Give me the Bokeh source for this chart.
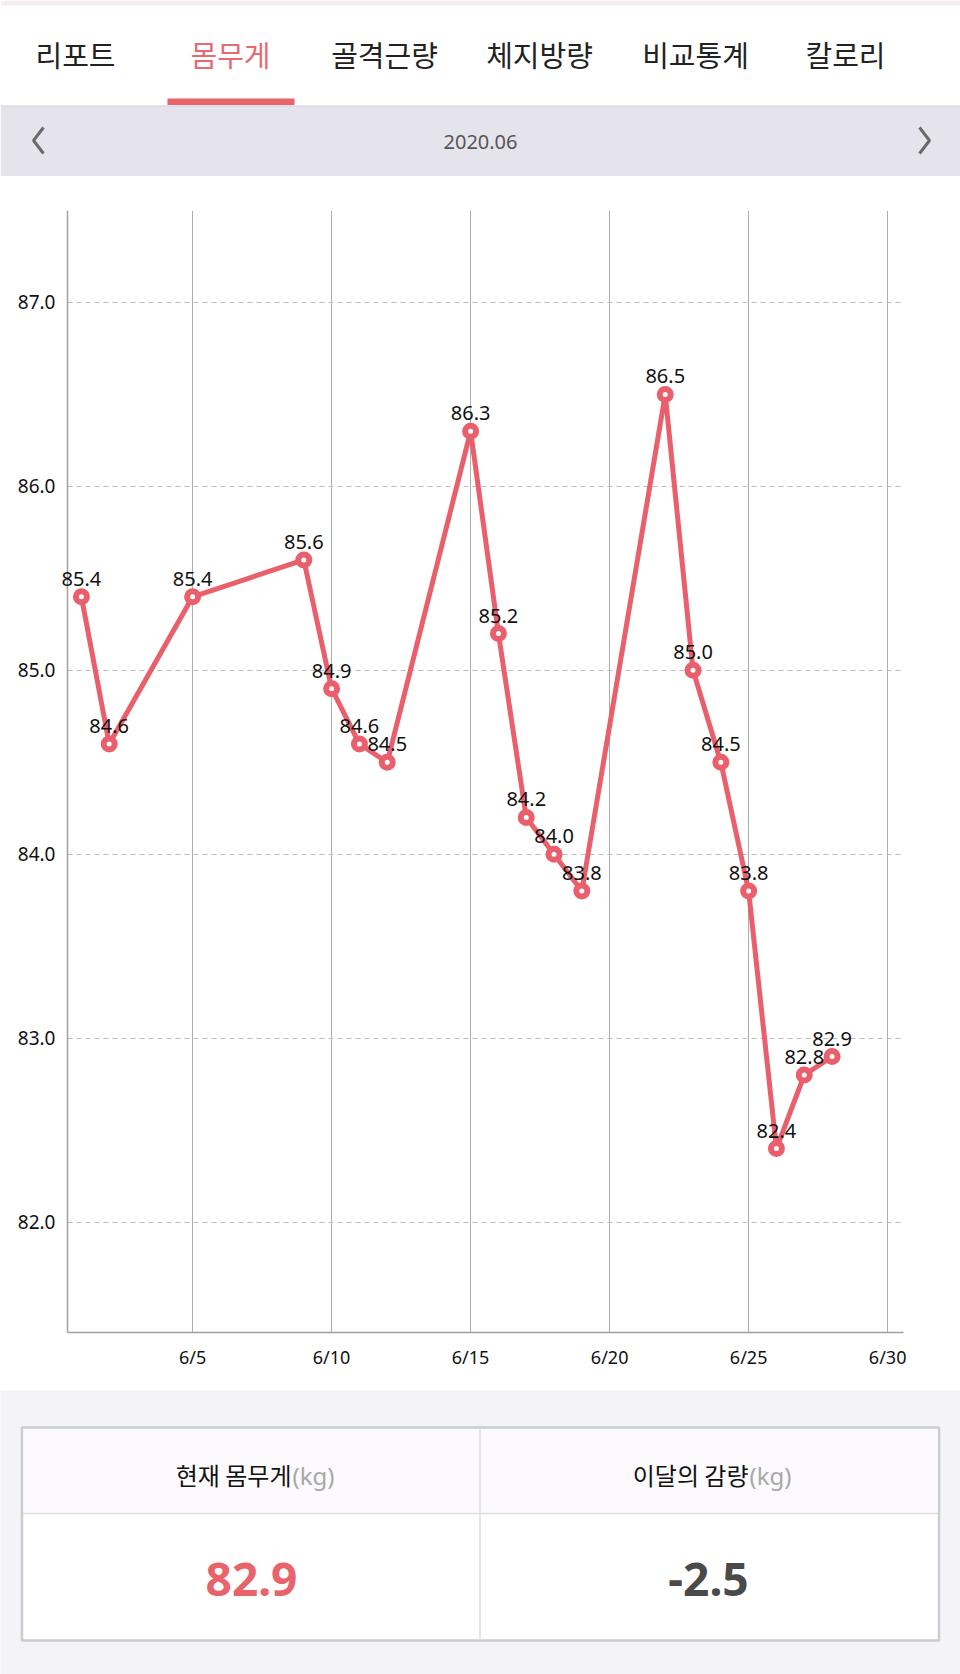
from bokeh.plotting import figure
from bokeh.models import ColumnDataSource, Range1d, FixedTicker, Label, BoxAnnotation, Span
from bokeh.core.properties import value
from bokeh.embed import file_html
from bokeh.resources import INLINE

# ---------------- data ----------------
days = [1, 2, 5, 9, 10, 11, 12, 15, 16, 17, 18, 19, 22, 23, 24, 25, 26, 27, 28]
weights = [85.4, 84.6, 85.4, 85.6, 84.9, 84.6, 84.5, 86.3, 85.2, 84.2, 84.0, 83.8,
           86.5, 85.0, 84.5, 83.8, 82.4, 82.8, 82.9]
x_ticks = [5, 10, 15, 20, 25, 30]
x_tick_labels = ["6/5", "6/10", "6/15", "6/20", "6/25", "6/30"]
y_ticks = [82, 83, 84, 85, 86, 87]
y_tick_labels = ["82.0", "83.0", "84.0", "85.0", "86.0", "87.0"]
tabs = ["리포트", "몸무게", "골격근량", "체지방량", "비교통계", "칼로리"]
active_tab = "몸무게"
month_label = "2020.06"
summary_titles = ["현재 몸무게", "이달의 감량"]
summary_unit = "(kg)"

current_weight = weights[-1]
monthly_change = round(weights[-1] - weights[0], 1)

PINK = "#EA5F6C"
AXIS_GRAY = "#A0A0A0"
KR = value("Noto Sans CJK KR")
NUM = value("Noto Sans")
X_START, X_END = 0.5, 30.57  # visible day span of the axes
Y_START, Y_END = 81.4, 87.5

def blank(w, h, x0, x1, y0, y1, bg="white"):
    f = figure(width=w, height=h, x_range=Range1d(x0, x1), y_range=Range1d(y0, y1),
               output_backend="svg", toolbar_location=None,
               x_axis_type=None, y_axis_type=None,
               min_border=0, min_border_left=0, min_border_right=0,
               min_border_top=0, min_border_bottom=0)
    f.outline_line_color = None
    f.grid.visible = False
    f.background_fill_color = bg
    f.border_fill_color = bg
    return f

# ---------------- header (tabs + month bar) ----------------
hdr = blank(960, 176, 0, 960, 176, 0)
hdr.quad(left=[0], right=[960], top=[0], bottom=[5], fill_color="#F7ECEF", line_color=None)
tab_x = [75, 230, 384, 539, 695, 845]
tab_colors = [("#E66A73" if t == active_tab else "#222222") for t in tabs]
hdr.text(x=tab_x, y=[53] * len(tabs), text=tabs, text_color=tab_colors,
         text_align="center", text_baseline="middle", text_font=KR, text_font_size="29px")
hdr.quad(left=[167], right=[294], top=[98], bottom=[104.5], fill_color="#E8636A", line_color=None)
hdr.quad(left=[0], right=[960], top=[105.5], bottom=[176], fill_color="#E5E4EC", line_color=None)
hdr.segment(x0=[0], y0=[105.5], x1=[960], y1=[105.5], line_color="#D3D2DA", line_width=1)
hdr.line(x=[43, 33, 43], y=[127, 140, 153], line_color="#6A6A6A", line_width=3)
hdr.line(x=[919, 929, 919], y=[127, 140, 153], line_color="#6A6A6A", line_width=3)
hdr.text(x=[480], y=[141], text=[month_label], text_color="#555555", text_align="center",
         text_baseline="middle", text_font=NUM, text_font_size="20px")

# ---------------- chart ----------------
p = figure(width=960, height=1214, x_range=Range1d(0.176, X_END), y_range=Range1d(Y_START, Y_END),
           output_backend="svg", toolbar_location=None,
           min_border_left=58, min_border_right=57, min_border_top=34, min_border_bottom=58)
p.outline_line_color = None
p.background_fill_color = "white"
p.border_fill_color = "white"

for ax in (p.xaxis, p.yaxis):
    ax.axis_line_color = AXIS_GRAY
    ax.axis_line_width = 1.5
    ax.major_tick_line_color = None
    ax.minor_tick_line_color = None
    ax.major_tick_out = 0
    ax.major_tick_in = 0
    ax.major_label_text_color = "#111111"
    ax.major_label_text_font = "Noto Sans"

p.xaxis.ticker = FixedTicker(ticks=x_ticks)
p.xaxis.major_label_overrides = {float(k): v for k, v in zip(x_ticks, x_tick_labels)}
p.xaxis.major_label_text_font_size = "18px"
p.xaxis.major_label_standoff = 12
p.xaxis.bounds = (X_START, X_END)
p.yaxis.ticker = FixedTicker(ticks=y_ticks)
p.yaxis.major_label_overrides = {float(k): v for k, v in zip(y_ticks, y_tick_labels)}
p.yaxis.major_label_text_font_size = "19px"
p.yaxis.major_label_standoff = 3
p.yaxis.axis_line_color = None

p.xgrid.ticker = FixedTicker(ticks=x_ticks)
p.xgrid.grid_line_color = "#ADADAD"
p.xgrid.grid_line_width = 1
p.ygrid.ticker = FixedTicker(ticks=y_ticks)
p.ygrid.grid_line_color = "#BDBDBD"
p.ygrid.grid_line_dash = "5 4"
p.ygrid.grid_line_width = 1

# blank strip left of the vertical axis line (covers the grid lines there)
p.add_layout(BoxAnnotation(right=X_START - 0.03, fill_color="white", fill_alpha=1.0,
                           line_color=None, level="underlay"))
p.add_layout(Span(location=X_START, dimension="height", line_color=AXIS_GRAY,
                  line_width=1.5, level="underlay"))

src = ColumnDataSource(dict(day=days, w=weights))
p.line("day", "w", source=src, line_color=PINK, line_width=5, line_join="round")
p.scatter("day", "w", source=src, size=11, fill_color="white", line_color=PINK, line_width=6)
for d, w in zip(days, weights):
    p.add_layout(Label(x=d, y=w, text=f"{w:.1f}", text_align="center",
                       text_baseline="bottom", y_offset=11, text_font="Noto Sans",
                       text_font_size="20px", text_color="#111111"))

# ---------------- summary table ----------------
tb = blank(960, 284, 0, 960, 284, 0, bg="#F4F4F6")
tb.quad(left=[21.5], right=[938.5], top=[37], bottom=[250], fill_color="white",
        line_color="#C9CCD2", line_width=2.5)
tb.quad(left=[23], right=[937], top=[38.5], bottom=[123], fill_color="#FCFAFC", line_color=None)
tb.segment(x0=[22.5], y0=[123], x1=[937.5], y1=[123], line_color="#DEDDE2", line_width=1.5)
tb.segment(x0=[479.5], y0=[38], x1=[479.5], y1=[249], line_color="#DEDDE2", line_width=1.5)
tb.text(x=[291, 748], y=[84, 84], text=summary_titles, text_color="#111111", text_align="right",
        text_baseline="middle", text_font=KR, text_font_size="24px")
tb.text(x=[292, 749], y=[85, 85], text=[summary_unit, summary_unit], text_color="#A8A8A8",
        text_align="left", text_baseline="middle", text_font=NUM, text_font_size="24px")
tb.text(x=[251], y=[189], text=[f"{current_weight:.1f}"], text_color="#E8636A",
        text_align="center", text_baseline="middle", text_font=NUM, text_font_size="46px",
        text_font_style="bold")
tb.text(x=[708], y=[189], text=[f"{monthly_change:.1f}"], text_color="#4A4A4A",
        text_align="center", text_baseline="middle", text_font=NUM, text_font_size="46px",
        text_font_style="bold")

open("out.html", "w").write(file_html([hdr, p, tb], INLINE))
